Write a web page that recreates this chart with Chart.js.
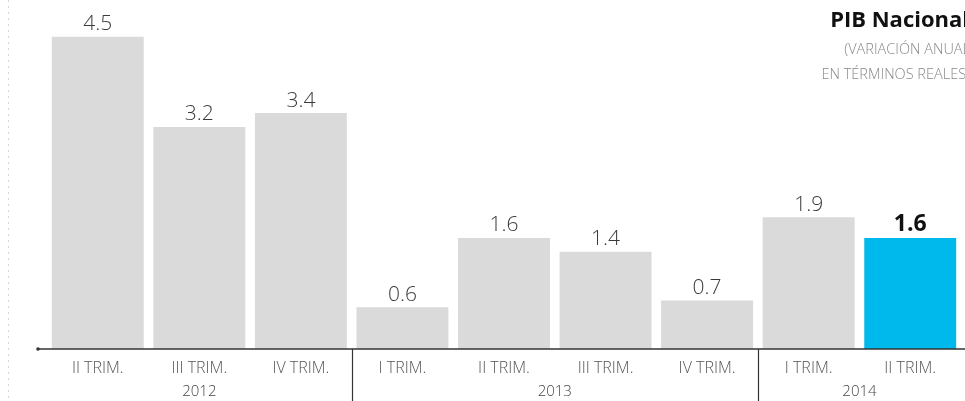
<!DOCTYPE html>
<html lang="es">
<head>
<meta charset="UTF-8" />
<title>PIB Nacional</title>
<style>
  body { margin: 0; padding: 0; background: #fff; }
  #wrap { width: 965px; height: 401px; position: relative; }
</style>
</head>
<body>
<div id="wrap">
  <canvas id="pib" width="965" height="401"></canvas>
</div>
<script src="https://cdn.jsdelivr.net/npm/chart.js"></script>
<script>
// quarters shown under each bar
const quarters = ['II TRIM.', 'III TRIM.', 'IV TRIM.', 'I TRIM.', 'II TRIM.', 'III TRIM.', 'IV TRIM.', 'I TRIM.', 'II TRIM.'];
// annual real growth, %
const growth = [4.5, 3.2, 3.4, 0.6, 1.6, 1.4, 0.7, 1.9, 1.6];
// years and which bars they cover (first, last index)
const years = ['2012', '2013', '2014'];
const yearFirst = [0, 3, 7];
const yearLast = [2, 6, 8];

const FONT = "'Open Sans', 'Noto Sans', sans-serif";
const grey = '#dadada';
const blue = '#00b9ec';
const barColors = growth.map((v, i) => i === growth.length - 1 ? blue : grey);

// values over bars, year labels, axis line and separators
const decorations = {
  id: 'decorations',
  afterDatasetsDraw(chart) {
    const ctx = chart.ctx;
    const meta = chart.getDatasetMeta(0);
    const x = chart.scales.x;
    const area = chart.chartArea;
    ctx.save();

    // faint dotted line on the far left
    ctx.strokeStyle = '#d6d6d6';
    ctx.lineWidth = 1;
    ctx.setLineDash([2, 4]);
    ctx.beginPath();
    ctx.moveTo(8.5, 0);
    ctx.lineTo(8.5, 401);
    ctx.stroke();
    ctx.setLineDash([]);

    // values
    ctx.textAlign = 'center';
    ctx.textBaseline = 'bottom';
    meta.data.forEach((bar, i) => {
      const last = i === growth.length - 1;
      ctx.font = last ? `700 23px ${FONT}` : `300 21px ${FONT}`;
      ctx.fillStyle = last ? '#111' : '#3a3a3a';
      ctx.fillText(growth[i].toFixed(1), bar.x, bar.y - 2);
    });

    // baseline
    ctx.strokeStyle = '#333';
    ctx.lineWidth = 1.5;
    ctx.beginPath();
    ctx.moveTo(38, area.bottom);
    ctx.lineTo(chart.width, area.bottom);
    ctx.stroke();
    ctx.fillStyle = '#333';
    ctx.beginPath();
    ctx.arc(38, area.bottom, 1.8, 0, Math.PI * 2);
    ctx.fill();

    // year separators
    ctx.lineWidth = 1.2;
    for (let k = 1; k < years.length; k++) {
      const sx = (x.getPixelForValue(yearLast[k - 1]) + x.getPixelForValue(yearFirst[k])) / 2;
      ctx.beginPath();
      ctx.moveTo(Math.round(sx) + 0.5, area.bottom);
      ctx.lineTo(Math.round(sx) + 0.5, chart.height);
      ctx.stroke();
    }

    // year labels
    ctx.font = `300 15px ${FONT}`;
    ctx.fillStyle = '#444';
    ctx.textBaseline = 'middle';
    years.forEach((y, k) => {
      const cx = (x.getPixelForValue(yearFirst[k]) + x.getPixelForValue(yearLast[k])) / 2;
      ctx.fillText(y, cx, 392);
    });

    // title block, clipped at the right edge like the source
    ctx.textAlign = 'right';
    ctx.font = `700 22px ${FONT}`;
    ctx.fillStyle = '#111';
    ctx.fillText('PIB Nacional', 969, 21);
    ctx.font = `300 14.5px ${FONT}`;
    ctx.fillStyle = '#888';
    ctx.fillText('(VARIACIÓN ANUAL', 970, 50);
    ctx.fillText('EN TÉRMINOS REALES)', 970, 75);

    ctx.restore();
  }
};

new Chart(document.getElementById('pib').getContext('2d'), {
  type: 'bar',
  data: {
    labels: quarters,
    datasets: [{
      data: growth,
      backgroundColor: barColors,
      borderWidth: 0,
      categoryPercentage: 1,
      barPercentage: 0.905
    }]
  },
  options: {
    responsive: false,
    animation: false,
    layout: { padding: { left: 47, right: 4, top: 2, bottom: 0 } },
    plugins: { legend: { display: false }, tooltip: { enabled: false } },
    scales: {
      x: {
        grid: { display: false, drawTicks: false },
        border: { display: false },
        ticks: {
          autoSkip: false, maxRotation: 0, padding: 10,
          color: '#555', font: { family: FONT, size: 16, weight: 300 }
        },
        afterFit(scale) { scale.height = 52; }
      },
      y: { display: false, min: 0, max: 5 }
    }
  },
  plugins: [decorations]
});
</script>
</body>
</html>
